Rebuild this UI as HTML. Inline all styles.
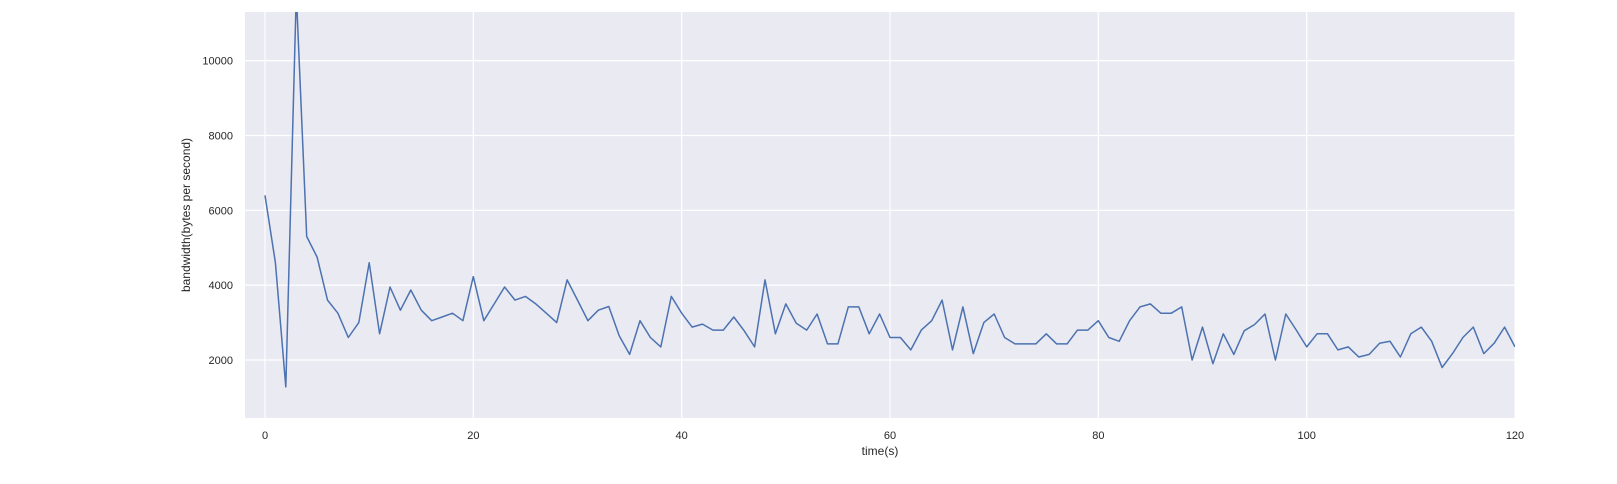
<!DOCTYPE html>
<html><head><meta charset="utf-8"><style>
body{margin:0;background:#fff;}
svg{display:block;font-family:"Liberation Sans",sans-serif;}
</style></head><body>
<svg id="chart" width="1617" height="484"></svg>
<script>
const times = Array.from({length:121},(_,i)=>i);
const bandwidth = [6400,4600,1280,11800,5300,4750,3600,3250,2600,3000,
4600,2700,3950,3330,3870,3330,3050,3150,3250,3050,
4230,3050,3500,3950,3600,3700,3500,3250,3000,4140,
3600,3050,3330,3430,2650,2150,3050,2600,2350,3700,
3250,2880,2960,2800,2800,3150,2780,2350,4140,2700,
3500,2980,2800,3230,2430,2430,3420,3420,2700,3230,
2600,2600,2270,2800,3050,3600,2270,3420,2170,3000,
3230,2600,2430,2430,2430,2700,2430,2430,2800,2800,
3050,2600,2500,3050,3420,3500,3250,3250,3420,2000,
2880,1900,2700,2150,2780,2950,3230,2000,3230,2800,
2350,2700,2700,2270,2350,2080,2150,2450,2500,2080,
2700,2880,2500,1800,2170,2600,2880,2170,2450,2880,2350];
const xTicks = [0,20,40,60,80,100,120];
const yTicks = [2000,4000,6000,8000,10000];

const NS="http://www.w3.org/2000/svg";
const svg=document.getElementById('chart');
const L=245,R=1515,T=12,B=418;
const xMin=-1.92,xMax=120,yMin=450,yMax=11300;
const xs=v=>L+(v-xMin)/(xMax-xMin)*(R-L);
const ys=v=>B-(v-yMin)/(yMax-yMin)*(B-T);
function mk(tag,attrs){const e=document.createElementNS(NS,tag);for(const k in attrs)e.setAttribute(k,attrs[k]);return e;}

const bg=mk('rect',{x:L,y:T,width:R-L,height:B-T,fill:'#eaeaf2'});


svg.appendChild(bg);

const clip=mk('clipPath',{id:'c'});clip.appendChild(mk('rect',{x:L,y:T,width:R-L,height:B-T}));svg.appendChild(clip);

xTicks.forEach(t=>{
  const g=mk('line',{x1:xs(t),x2:xs(t),y1:T,y2:B,stroke:'#fff','stroke-width':1.2});
  
  
  svg.appendChild(g);
  const tx=mk('text',{x:xs(t),y:B+21,'text-anchor':'middle','font-size':11,fill:'#262626'});
  tx.textContent=t;
  
  
  svg.appendChild(tx);
});
yTicks.forEach(t=>{
  const g=mk('line',{x1:L,x2:R,y1:ys(t),y2:ys(t),stroke:'#fff','stroke-width':1.2});
  
  
  svg.appendChild(g);
  const tx=mk('text',{x:L-12,y:ys(t)+4,'text-anchor':'end','font-size':11,fill:'#262626'});
  tx.textContent=t;
  
  
  svg.appendChild(tx);
});

const pts=times.map((t,i)=>xs(t).toFixed(1)+','+ys(bandwidth[i]).toFixed(1)).join(' ');
const line=mk('polyline',{points:pts,fill:'none',stroke:'#4c72b0','stroke-width':1.5,'clip-path':'url(#c)','stroke-linejoin':'round'});


svg.appendChild(line);

const xl=mk('text',{x:(L+R)/2,y:455,'text-anchor':'middle','font-size':12,fill:'#262626'});
xl.textContent='time(s)';


svg.appendChild(xl);
const yl=mk('text',{x:0,y:0,'text-anchor':'middle','font-size':12,fill:'#262626',transform:'translate(190,'+((T+B)/2)+') rotate(-90)'});
yl.textContent='bandwidth(bytes per second)';


svg.appendChild(yl);
</script>
</body></html>
